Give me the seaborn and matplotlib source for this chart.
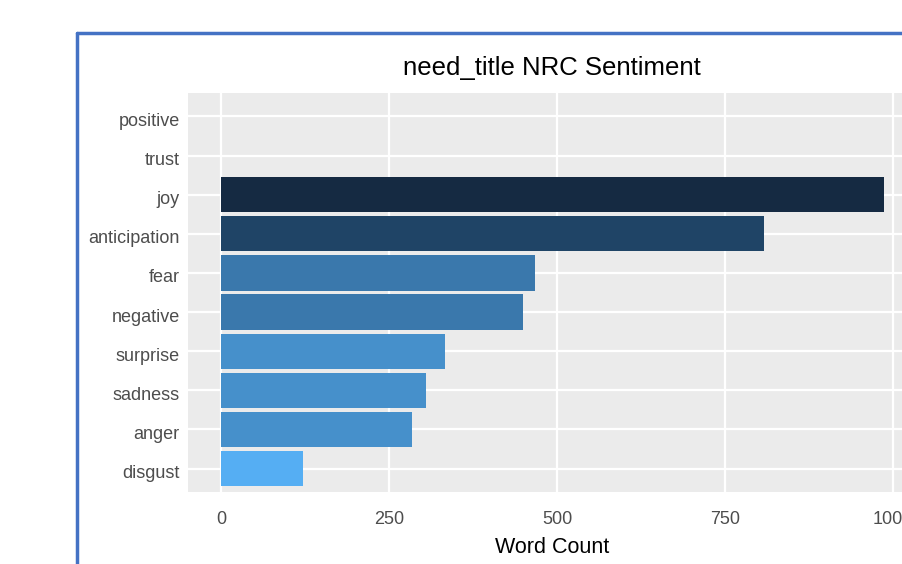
import matplotlib
matplotlib.use("Agg")
import matplotlib.pyplot as plt
import matplotlib.transforms as mtransforms
import seaborn as sns
import pandas as pd
from matplotlib.lines import Line2D

# datos
sentimientos = ["positive", "trust", "joy", "anticipation", "fear",
                "negative", "surprise", "sadness", "anger", "disgust"]
conteos = [0, 0, 987, 808, 467, 449, 333, 305, 284, 122]
colores = ["#152A42", "#152A42", "#152A42", "#1F4466", "#3A78AC",
           "#3A78AC", "#4690CB", "#4690CB", "#4690CB", "#55AEF3"]
ticks_x = [0, 250, 500, 750, 1000]
titulo = "need_title NRC Sentiment"
etiqueta_x = "Word Count"

df = pd.DataFrame({"sentiment": sentimientos, "n": conteos})

sns.set_style("white")
plt.rcParams["font.family"] = ["Liberation Sans Narrow", "Liberation Sans", "DejaVu Sans"]

W, H = 902, 564
fig = plt.figure(figsize=(W / 100, H / 100), dpi=100)
fig.patch.set_facecolor("white")

# panel en pixeles: izq 188, der 916, arriba 93, abajo 492
ax = fig.add_axes([188 / W, (H - 492) / H, (916 - 188) / W, (492 - 93) / H])
ax.set_facecolor("#EBEBEB")

sns.barplot(data=df, x="n", y="sentiment", hue="sentiment", order=sentimientos,
            palette=dict(zip(sentimientos, colores)), legend=False, saturation=1,
            width=0.9, linewidth=0, ax=ax, zorder=3)

ax.set_xlim(-49, 1034)
ax.set_ylim(len(sentimientos) - 0.4, -0.6)
ax.set_xticks(ticks_x)
ax.set_xticklabels([str(t) for t in ticks_x])
for x in ticks_x:
    ax.axvline(x, color="white", lw=1.6, zorder=1)
for i in range(len(sentimientos)):
    ax.axhline(i, color="white", lw=1.6, zorder=1)
for s in ax.spines.values():
    s.set_visible(False)

ax.tick_params(axis="y", length=0, labelsize=13, colors="#4D4D4D", pad=6)
ax.tick_params(axis="x", length=0, labelsize=13, colors="#4D4D4D", pad=14)

# las etiquetas del eje y quedan un poco mas abajo en la captura
desplaza = mtransforms.ScaledTranslation(0, -3 / 100, fig.dpi_scale_trans)
for lab in ax.get_yticklabels():
    lab.set_transform(lab.get_transform() + desplaza)

ax.set_ylabel("")
ax.set_xlabel(etiqueta_x, fontsize=15.5, color="black", labelpad=6)
ax.set_title(titulo, fontsize=18.5, color="black", pad=13)

# marco azul del recorte
fig.add_artist(Line2D([77 / W, 77 / W], [0, (H - 33) / H], color="#4472C4", lw=2.5,
                      transform=fig.transFigure))
fig.add_artist(Line2D([77 / W, 1], [(H - 33) / H, (H - 33) / H], color="#4472C4", lw=2.5,
                      transform=fig.transFigure))

fig.savefig("out.png", dpi=100)
